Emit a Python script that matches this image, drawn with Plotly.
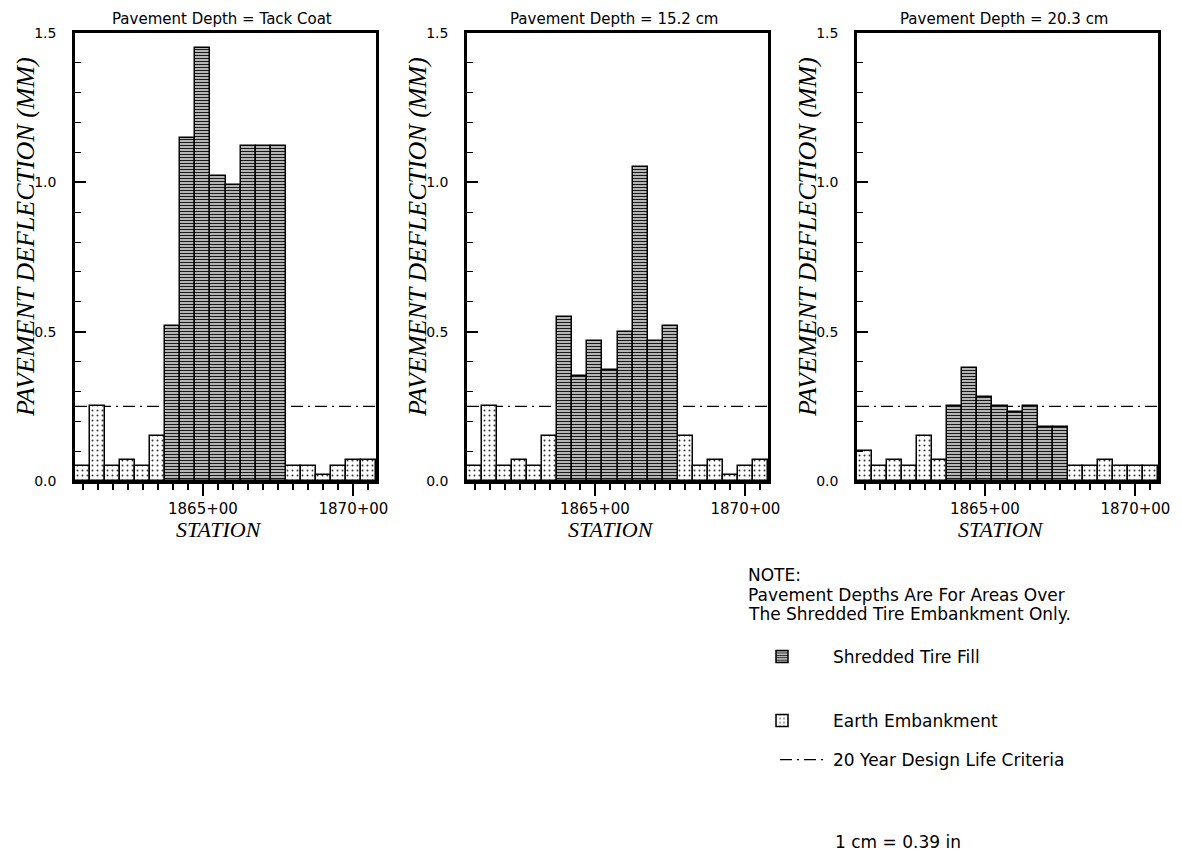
import plotly.graph_objects as go

# ---------------- data ----------------
STATIONS = [1861.0, 1861.5, 1862.0, 1862.5, 1863.0, 1863.5, 1864.0, 1864.5,
            1865.0, 1865.5, 1866.0, 1866.5, 1867.0, 1867.5, 1868.0, 1868.5,
            1869.0, 1869.5, 1870.0, 1870.5]
MATERIAL = ["earth"] * 6 + ["shred"] * 8 + ["earth"] * 6

PANEL_TITLES = ["Pavement Depth = Tack Coat",
                "Pavement Depth = 15.2 cm",
                "Pavement Depth = 20.3 cm"]

DEFL_TACK = [0.05, 0.25, 0.05, 0.07, 0.05, 0.15,
             0.52, 1.15, 1.45, 1.02, 0.99, 1.12, 1.12, 1.12,
             0.05, 0.05, 0.02, 0.05, 0.07, 0.07]
DEFL_152 = [0.05, 0.25, 0.05, 0.07, 0.05, 0.15,
            0.55, 0.35, 0.47, 0.37, 0.50, 1.05, 0.47, 0.52,
            0.15, 0.05, 0.07, 0.02, 0.05, 0.07]
DEFL_203 = [0.10, 0.05, 0.07, 0.05, 0.15, 0.07,
            0.25, 0.38, 0.28, 0.25, 0.23, 0.25, 0.18, 0.18,
            0.05, 0.05, 0.07, 0.05, 0.05, 0.05]
PANELS = [DEFL_TACK, DEFL_152, DEFL_203]

CRITERION = 0.25  # mm, 20 year design life

X_TICK_VALS = [1865, 1870]
X_TICK_TEXT = ["1865+00", "1870+00"]
Y_TICK_VALS = [0.0, 0.5, 1.0, 1.5]
Y_TICK_TEXT = ["0.0", "0.5", "1.0", "1.5"]

NOTE_LINES = ["NOTE:",
              "Pavement Depths Are For Areas Over",
              "The Shredded Tire Embankment Only."]
SCALE_NOTE = "1 cm = 0.39 in"
LEGEND_NAMES = {"shred": "Shredded Tire Fill",
                "earth": "Earth Embankment",
                "crit": "20 Year Design Life Criteria"}

# ---------------- layout helpers ----------------
# the page body has an 8px margin, so the figure is drawn 8px in from the
# window corner; positions below are measured in window pixels.
PAGE_MARGIN = 8
WIN_W, WIN_H = 1182, 851
W, H = WIN_W - PAGE_MARGIN, WIN_H - PAGE_MARGIN
def fx(px):
    return (px - PAGE_MARGIN) / W
def fy(py):
    return 1 - (py - PAGE_MARGIN) / H

PLOT_LEFT = [75, 467, 857]
PLOT_W = 301
PLOT_TOP, PLOT_BOT = 33, 481

SANS = "DejaVu Sans"
SERIF = "Liberation Serif"

PATTERNS = {
    "shred": dict(shape="-", size=3, solidity=0.55, fgcolor="#1a1a1a",
                  bgcolor="white", fillmode="replace"),
    "earth": dict(shape=".", size=5, solidity=0.12, fgcolor="#333333",
                  bgcolor="white", fillmode="replace"),
}
LEGEND_OF = {"shred": "legend", "earth": "legend2", "crit": "legend3"}

fig = go.Figure()

for p, defl in enumerate(PANELS):
    n = p + 1
    xa = "x" if n == 1 else f"x{n}"
    ya = "y" if n == 1 else f"y{n}"
    for mat in ["earth", "shred"]:
        xs = [s for s, m in zip(STATIONS, MATERIAL) if m == mat]
        ys = [v for v, m in zip(defl, MATERIAL) if m == mat]
        fig.add_trace(go.Bar(
            x=xs, y=ys, width=0.5, xaxis=xa, yaxis=ya,
            name=LEGEND_NAMES[mat], legendgroup=mat, legend=LEGEND_OF[mat],
            showlegend=(p == 0),
            marker=dict(color="white", pattern=PATTERNS[mat],
                        line=dict(color="black", width=1.5)),
            hoverinfo="x+y",
        ))
    # criterion line across the panel
    fig.add_shape(type="line", xref=f"{xa} domain", yref=ya,
                  x0=0, x1=1, y0=CRITERION, y1=CRITERION,
                  layer="below",
                  line=dict(color="black", width=1.3, dash="12px,5px,2px,5px"),
                  name=LEGEND_NAMES["crit"], showlegend=(p == 0),
                  legendgroup="crit", legend=LEGEND_OF["crit"])

    left = PLOT_LEFT[p]
    dom_x = [fx(left), fx(left + PLOT_W)]
    dom_y = [fy(PLOT_BOT), fy(PLOT_TOP)]
    axis_common = dict(showline=True, linecolor="black", linewidth=2.5,
                       mirror=True, showgrid=False, zeroline=False,
                       automargin=False)
    fig.layout[f"xaxis{'' if n == 1 else n}"] = dict(
        domain=dom_x, anchor=ya, range=[1860.75, 1870.75],
        tickmode="array", tickvals=X_TICK_VALS, ticktext=X_TICK_TEXT,
        ticks="outside", ticklen=12, tickwidth=2, tickcolor="black",
        minor=dict(tickmode="array", tickvals=STATIONS, ticks="outside",
                   ticklen=6, tickwidth=1.5, tickcolor="black"),
        tickfont=dict(family=SANS, size=15, color="black"),
        **axis_common)
    fig.layout[f"yaxis{'' if n == 1 else n}"] = dict(
        domain=dom_y, anchor=xa, range=[0, 1.5],
        tickmode="array", tickvals=Y_TICK_VALS, ticktext=Y_TICK_TEXT,
        ticks="inside", ticklen=11, tickwidth=1.5, tickcolor="black",
        ticklabelstandoff=13,
        minor=dict(dtick=0.1, tick0=0, ticks="inside", ticklen=6,
                   tickwidth=1.2, tickcolor="black"),
        tickfont=dict(family=SANS, size=14, color="black"),
        **axis_common)

    # panel title
    fig.add_annotation(xref="paper", yref="paper",
                       x=fx(left + PLOT_W / 2 - 4), y=fy(19),
                       text=PANEL_TITLES[p], showarrow=False,
                       xanchor="center", yanchor="middle",
                       font=dict(family=SANS, size=15, color="black"))
    # y title
    fig.add_annotation(xref="paper", yref="paper",
                       x=fx(left - 50), y=fy(237),
                       text="PAVEMENT DEFLECTION (MM)", textangle=-90,
                       showarrow=False, xanchor="center", yanchor="middle",
                       font=dict(family=SERIF, size=26, style="italic",
                                 color="black"))
    # x title
    fig.add_annotation(xref="paper", yref="paper",
                       x=fx(left + PLOT_W / 2 - 7), y=fy(529),
                       text="STATION", showarrow=False,
                       xanchor="center", yanchor="middle",
                       font=dict(family=SERIF, size=22, style="italic",
                                 color="black"))

# note text
for i, line in enumerate(NOTE_LINES):
    fig.add_annotation(xref="paper", yref="paper", x=fx(746),
                       y=fy(575 + 19.5 * i), text=line, showarrow=False,
                       xanchor="left", yanchor="middle",
                       font=dict(family=SANS, size=17, color="black"))
fig.add_annotation(xref="paper", yref="paper", x=fx(833), y=fy(842),
                   text=SCALE_NOTE, showarrow=False,
                   xanchor="left", yanchor="middle",
                   font=dict(family=SANS, size=17, color="black"))

legend_common = dict(xanchor="left", yanchor="middle",
                     font=dict(family=SANS, size=17, color="black"),
                     bgcolor="rgba(0,0,0,0)")
fig.update_layout(
    width=W, height=H,
    margin=dict(l=0, r=0, t=0, b=0, autoexpand=False),
    paper_bgcolor="white", plot_bgcolor="white",
    barmode="overlay", bargap=0,
    showlegend=True,
    legend=dict(x=fx(731), y=fy(657), itemwidth=92, **legend_common),
    legend2=dict(x=fx(731), y=fy(721), itemwidth=92, **legend_common),
    legend3=dict(x=fx(775), y=fy(760), itemwidth=48, **legend_common),
)

fig.write_html("out.html")
